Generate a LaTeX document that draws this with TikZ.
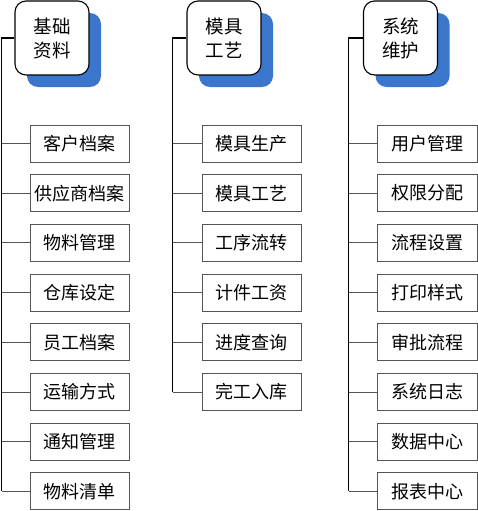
\documentclass[tikz,border=0pt]{standalone}
\usepackage{fontspec}
\setmainfont{Noto Sans CJK SC}
\usetikzlibrary{shadows}
\definecolor{shadowblue}{RGB}{58,118,204}
\definecolor{itemgray}{RGB}{85,85,85}
\begin{document}
\begin{tikzpicture}[x=1pt,y=-1pt,
  header/.style={draw=black, line width=1.1pt, fill=white, rounded corners=11pt,
    minimum width=74pt, minimum height=74pt, inner sep=0pt, align=center,
    font=\fontsize{18.5}{24}\selectfont,
    general shadow={fill=shadowblue, shadow xshift=12pt, shadow yshift=-12pt, draw=none}},
  item/.style={draw=itemgray, line width=0.9pt, fill=white,
    minimum width=99pt, minimum height=37pt, inner sep=0pt,
    font=\fontsize{18}{22}\selectfont},
  trunk/.style={draw=black, line width=1.6pt},
  branch/.style={draw=itemgray, line width=0.9pt}]
\useasboundingbox (0,0) rectangle (478,511);

% headers
\node[header] (h1) at (52,38) {基础\\资料};
\node[header] (h2) at (224,38) {模具\\工艺};
\node[header] (h3) at (400.5,38) {系统\\维护};

% trunk points
\coordinate (c1) at (1.5,38);
\coordinate (c2) at (172.5,38);
\coordinate (c3) at (348.5,38);

% column 1 items
\foreach \t [count=\i from 0] in {客户档案,供应商档案,物料管理,仓库设定,员工档案,运输方式,通知管理,物料清单}
  \node[item] (a\i) at (79.5,{143.5+49.7*\i}) {\t};
% column 2 items
\foreach \t [count=\i from 0] in {模具生产,模具工艺,工序流转,计件工资,进度查询,完工入库}
  \node[item] (b\i) at (251.5,{143.5+49.7*\i}) {\t};
% column 3 items
\foreach \t [count=\i from 0] in {用户管理,权限分配,流程设置,打印样式,审批流程,系统日志,数据中心,报表中心}
  \node[item, minimum width=100pt] (d\i) at (427,{143.5+49.7*\i}) {\t};

% trunks
\draw[trunk] (h1.west) -- (c1) -- (c1 |- a7.west);
\draw[trunk] (h2.west) -- (c2) -- (c2 |- b5.west);
\draw[trunk] (h3.west) -- (c3) -- (c3 |- d7.west);

% branches
\foreach \i in {0,...,7} \draw[branch] (c1 |- a\i.west) -- (a\i.west);
\foreach \i in {0,...,5} \draw[branch] (c2 |- b\i.west) -- (b\i.west);
\foreach \i in {0,...,7} \draw[branch] (c3 |- d\i.west) -- (d\i.west);
\end{tikzpicture}
\end{document}
